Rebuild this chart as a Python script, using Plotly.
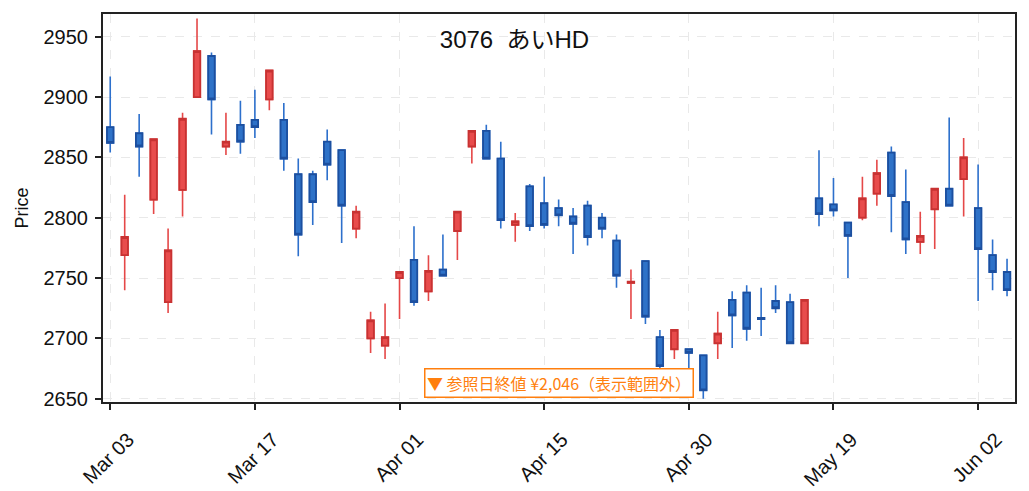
import plotly.graph_objects as go

dates = [
    "2025-03-03", "2025-03-04", "2025-03-05", "2025-03-06", "2025-03-07",
    "2025-03-10", "2025-03-11", "2025-03-12", "2025-03-13", "2025-03-14",
    "2025-03-17", "2025-03-18", "2025-03-19", "2025-03-21", "2025-03-24",
    "2025-03-25", "2025-03-26", "2025-03-27", "2025-03-28", "2025-03-31",
    "2025-04-01", "2025-04-02", "2025-04-03", "2025-04-04", "2025-04-07",
    "2025-04-08", "2025-04-09", "2025-04-10", "2025-04-11", "2025-04-14",
    "2025-04-15", "2025-04-16", "2025-04-17", "2025-04-18", "2025-04-21",
    "2025-04-22", "2025-04-23", "2025-04-24", "2025-04-25", "2025-04-28",
    "2025-04-30", "2025-05-01", "2025-05-02", "2025-05-07", "2025-05-08",
    "2025-05-09", "2025-05-12", "2025-05-13", "2025-05-14", "2025-05-15",
    "2025-05-19", "2025-05-20", "2025-05-21", "2025-05-22", "2025-05-23",
    "2025-05-26", "2025-05-27", "2025-05-28", "2025-05-29", "2025-05-30",
    "2025-06-02", "2025-06-03", "2025-06-04",
]

open_ = [
    2875, 2769, 2870, 2815, 2730, 2823, 2900, 2934, 2859, 2877,
    2881, 2898, 2881, 2836, 2836, 2863, 2856, 2791, 2700, 2694,
    2750, 2765, 2739, 2757, 2789, 2859, 2872, 2849, 2794, 2826,
    2812, 2808, 2801, 2810, 2800, 2781, 2746, 2764, 2701, 2691,
    2691, 2686, 2696, 2732, 2738, 2717, 2731, 2730, 2696, 2816,
    2811, 2796, 2800, 2820, 2854, 2813, 2780, 2807, 2824, 2832,
    2808, 2769, 2755,
]
high = [
    2917, 2819, 2886, 2865, 2791, 2887, 2965, 2937, 2887, 2897,
    2906, 2922, 2895, 2849, 2839, 2873, 2856, 2810, 2722, 2729,
    2755, 2793, 2769, 2786, 2805, 2872, 2877, 2863, 2804, 2828,
    2834, 2815, 2808, 2814, 2804, 2786, 2757, 2764, 2707, 2707,
    2691, 2686, 2722, 2739, 2744, 2742, 2744, 2737, 2732, 2856,
    2833, 2796, 2834, 2848, 2859, 2840, 2805, 2824, 2883, 2866,
    2844, 2782, 2766,
]
low = [
    2854, 2740, 2834, 2803, 2721, 2801, 2900, 2869, 2852, 2853,
    2866, 2889, 2839, 2768, 2794, 2831, 2779, 2783, 2688, 2683,
    2716, 2727, 2731, 2752, 2765, 2845, 2849, 2791, 2780, 2789,
    2791, 2793, 2770, 2777, 2783, 2742, 2716, 2712, 2674, 2683,
    2664, 2650, 2683, 2692, 2698, 2702, 2721, 2696, 2696, 2793,
    2801, 2750, 2798, 2810, 2788, 2770, 2770, 2774, 2810, 2801,
    2731, 2740, 2735,
]
close = [
    2862, 2784, 2859, 2865, 2773, 2882, 2938, 2898, 2863, 2863,
    2875, 2922, 2849, 2786, 2813, 2844, 2810, 2805, 2715, 2701,
    2755, 2730, 2756, 2752, 2805, 2872, 2849, 2798, 2797, 2793,
    2794, 2802, 2795, 2784, 2791, 2752, 2747, 2718, 2677, 2707,
    2688, 2657, 2704, 2719, 2708, 2716, 2725, 2696, 2732, 2803,
    2806, 2785, 2816, 2837, 2818, 2782, 2785, 2824, 2810, 2850,
    2774, 2755, 2740,
]

tick_dates = ["2025-03-03", "2025-03-17", "2025-04-01", "2025-04-15",
              "2025-04-30", "2025-05-19", "2025-06-02"]
tick_labels = ["Mar 03", "Mar 17", "Apr 01", "Apr 15", "Apr 30", "May 19", "Jun 02"]
y_ticks = [2650, 2700, 2750, 2800, 2850, 2900, 2950]

title_text = "3076\u00a0\u00a0あいHD"
note_text = "▼ 参照日終値 ¥2,046（表示範囲外）"

UP_FILL, UP_WICK, UP_EDGE = "#e84c4c", "#e54848", "#c83232"
DN_FILL, DN_WICK, DN_EDGE = "#2e72c8", "#2d70cc", "#1c4f9f"

body_hi = [max(o, c) for o, c in zip(open_, close)]
body_lo = [min(o, c) for o, c in zip(open_, close)]

fig = go.Figure()
# wicks (full range)
fig.add_trace(go.Candlestick(
    x=dates, open=open_, high=high, low=low, close=close,
    increasing=dict(line=dict(color=UP_WICK, width=1.6), fillcolor=UP_FILL),
    decreasing=dict(line=dict(color=DN_WICK, width=1.6), fillcolor=DN_FILL),
    whiskerwidth=0, showlegend=False, hoverinfo="skip",
))
# bodies with darker edges
fig.add_trace(go.Candlestick(
    x=dates, open=open_, high=body_hi, low=body_lo, close=close,
    increasing=dict(line=dict(color=UP_EDGE, width=1.8), fillcolor=UP_FILL),
    decreasing=dict(line=dict(color=DN_EDGE, width=1.8), fillcolor=DN_FILL),
    whiskerwidth=0, showlegend=False,
))

FONT = "Liberation Sans, Noto Sans CJK JP"
axis_common = dict(
    showline=True, mirror=True, linecolor="#222222", linewidth=2,
    ticks="outside", ticklen=6, tickwidth=2, tickcolor="#222222",
    showgrid=True, gridcolor="#e9e9e9", gridwidth=1.3, griddash="dash",
    zeroline=False, automargin=False,
    tickfont=dict(family=FONT, size=20, color="#111111"),
)

# page body has an 8px margin: the figure is sized to fit the 1029x491 window
W, H = 1021, 483
fig.update_layout(
    width=W, height=H,
    margin=dict(l=95, r=14, t=6, b=89),
    paper_bgcolor="white", plot_bgcolor="white",
    boxgap=0.36,
    title=dict(text=title_text, xref="container", x=506.5 / W, xanchor="center",
               yref="container", y=1 - 32 / H, yanchor="middle",
               font=dict(family=FONT, size=24, color="#111111"), automargin=False),
    xaxis=dict(
        type="category", range=[-0.5, 62.55],
        tickmode="array", tickvals=tick_dates, ticktext=tick_labels,
        tickangle=-45, rangeslider=dict(visible=False),
        ticklabelshift=18, ticklabelstandoff=10,
        **axis_common,
    ),
    yaxis=dict(
        range=[2647.3, 2968.8], tickmode="array", tickvals=y_ticks,
        ticklabelstandoff=3,
        title=dict(text="Price", standoff=10,
                   font=dict(family=FONT, size=18, color="#111111")),
        **axis_common,
    ),
    annotations=[dict(
        text=note_text, xref="paper", yref="paper", x=0.5, y=0.05,
        xanchor="center", yanchor="middle", showarrow=False,
        font=dict(family="Noto Sans CJK JP", size=16, color="#ff7f0e"),
        bgcolor="white", bordercolor="#ff7f0e", borderwidth=1.5, borderpad=1.5,
    )],
)

fig.write_html("out.html")
